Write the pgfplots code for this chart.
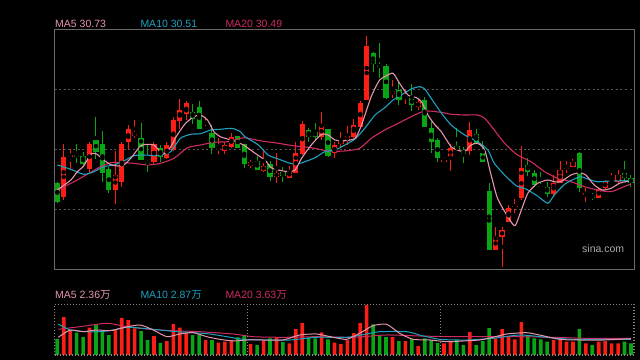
\documentclass[border=0pt]{standalone}
\usepackage{pgfplots}
\pgfplotsset{compat=1.18}
\usepackage{pgfplotstable}
\usepackage{fontspec}
\setmainfont{Liberation Sans}
\newfontfamily\cjk{Noto Sans CJK SC}

\definecolor{cred}{RGB}{250,30,20}
\definecolor{cgreen}{RGB}{10,165,20}
\definecolor{ma5}{RGB}{228,150,172}
\definecolor{ma10}{RGB}{30,160,192}
\definecolor{ma20}{RGB}{206,44,96}
\definecolor{framec}{RGB}{105,105,105}
\definecolor{gridc}{RGB}{85,85,85}
\definecolor{vframe}{RGB}{135,135,135}
\definecolor{sinac}{RGB}{170,170,170}

% o,c,h,l: price positions (chart units, top = small); vt: volume bar top
\pgfplotstableread{
i o c h l vt
0 182.7 201.7 182 203 339
1 196.7 157 144 200.3 317
2 156 155 149 170 330
3 155 156 144 162.7 332.7
4 156 164.3 151.7 165 337
5 169 144 142 171.7 327.7
6 140 152.3 117.3 159 325
7 144 172.7 131 181.7 331
8 169 190 166.7 192.7 335
9 190 175 150.7 203.7 330
10 181.7 144 141.7 186.7 318
11 141.7 129 125 149 320
12 135.7 132.7 120 137.7 328.3
13 138.3 160 122.7 160 331
14 161.7 163.7 144 171.7 340
15 162.3 144 142.3 163.7 336
16 147.7 157 145.3 161.7 343
17 158.3 145 142.3 159.3 341
18 150 120 116.7 150.7 324
19 121 110 99.3 129 327.7
20 114.3 103.3 100.7 120 333.3
21 112.3 119 104.3 124.3 335
22 106.7 129 100.7 129 334.3
23 128.7 127.7 116.7 128.7 340
24 132.7 148.3 125 154 340
25 149 148.3 138.3 154 342.7
26 150.7 145 141.7 154 341.7
27 146.7 136.7 133.3 148.3 340
28 135.7 148.3 135.7 148.3 337.3
29 144 163.7 144 167.7 335
30 166 161.7 160 167.7 344
31 161 170 155.7 170 345
32 170.7 166 150 171.7 340.7
33 164.3 176.7 161 180.7 338.3
34 176.7 173.3 153.3 183.3 337.3
35 171.7 175.7 167.3 181.7 342
36 177.7 171 166 177.7 343.3
37 173.3 153.3 142.3 173.3 329
38 154 124.3 121 155 323
39 130 136.7 127.7 142.3 337.3
40 131.7 136.7 123.3 140 338.3
41 136.7 125.7 111.7 140 332.3
42 129 155.7 129 156.7 339.3
43 153.3 145 141.7 158.3 342.7
44 144 140 131.7 148.3 344
45 141 135.7 125.7 145 340
46 136.7 125 119 138.3 333
47 126.7 103.3 101 126.7 323
48 100 46 36 100 305
49 52.7 64.3 51.7 72.3 324.3
50 65 67 42.7 77.7 336
51 66 97.7 64.3 99.3 337
52 94 91 80 97.7 337
53 90 100 81.7 105 341
54 96.7 95.7 90 104.3 341
55 98.3 105 84.3 110.7 339
56 106.7 102.3 99.3 110 346
57 100 126.7 96.7 126.7 338.3
58 127.7 141.7 121 152.7 340
59 140 158.3 138.3 161.7 343
60 161 160 156.7 162.7 343.3
61 156.7 148.3 144 170.7 341
62 146 149.3 128.3 150 340
63 150 154 146.7 162.7 345
64 150.7 130 121.7 155 332
65 134 143.3 129.3 143.3 345
66 153.3 161.7 140.7 162.3 341
67 191 250 183.3 250 328
68 250 236.7 226.7 250 338.3
69 236.7 230 226.7 266.7 329
70 222.3 208.3 205 222.3 336
71 206.7 206 199.3 213.3 339.3
72 198.3 168.3 146 200 322
73 165 171.7 158.3 175.7 336
74 172.7 185 170 186.7 338.3
75 185.7 186.7 171.7 186.7 339.3
76 186.7 194.3 181.7 196.7 341.7
77 194 182.7 175 196.7 340
78 183.3 170 161 183.3 339.3
79 168.3 167 161 172.7 341.7
80 166.7 161.7 159 166.7 341.7
81 152.7 187.7 151.7 191.7 329
82 194.3 193.3 188.3 201.7 343.3
83 195.7 197.3 192.7 200 345
84 197.7 189 188.3 197.7 341.7
85 187.7 181.7 180 189 341
86 181.7 180.7 173.3 181.7 343.3
87 181.7 175 170 183.3 343.3
88 173.3 178.3 161 182.3 341.7
89 177.7 183.3 175 186.7 343.3
}\kdata

\begin{document}
\begin{tikzpicture}
\fill[black] (0,0) rectangle (640bp,360bp);
\useasboundingbox (0,0) rectangle (640bp,360bp);

% ---------------- price panel ----------------
\begin{axis}[
  at={(54.5bp,90.5bp)}, anchor=south west,
  scale only axis, width=579.5bp, height=240bp,
  xmin=-0.434, xmax=89.47, ymin=29.5, ymax=269.5, y dir=reverse,
  axis line style={framec, line width=1bp},
  xtick=\empty, ytick={89.5,149.5,209.5}, yticklabels={}, major tick length=0pt,
  ymajorgrids, grid style={gridc, line width=1.3bp, dash pattern=on 2bp off 2.6bp},
  clip=true,
]
% wicks
\addplot[only marks, mark=none, forget plot,
  restrict expr to domain={\thisrow{o}-\thisrow{c}}{0.001:1000},
  error bars/.cd, y dir=both, y explicit, error mark=none,
  error bar style={line width=1bp, cred}]
  table[x=i, y expr={(\thisrow{h}+\thisrow{l})/2}, y error expr={(\thisrow{l}-\thisrow{h})/2}]{\kdata};
\addplot[only marks, mark=none, forget plot,
  restrict expr to domain={\thisrow{o}-\thisrow{c}}{-1000:0},
  error bars/.cd, y dir=both, y explicit, error mark=none,
  error bar style={line width=1bp, cgreen}]
  table[x=i, y expr={(\thisrow{h}+\thisrow{l})/2}, y error expr={(\thisrow{l}-\thisrow{h})/2}]{\kdata};
% bodies
\addplot[only marks, mark=none, forget plot,
  restrict expr to domain={\thisrow{o}-\thisrow{c}}{0.001:1000},
  error bars/.cd, y dir=both, y explicit, error mark=none,
  error bar style={line width=5.2bp, cred}]
  table[x=i, y expr={(\thisrow{o}+\thisrow{c})/2}, y error expr={max(abs(\thisrow{o}-\thisrow{c})/2,0.6)}]{\kdata};
\addplot[only marks, mark=none, forget plot,
  restrict expr to domain={\thisrow{o}-\thisrow{c}}{-1000:0},
  error bars/.cd, y dir=both, y explicit, error mark=none,
  error bar style={line width=5.2bp, cgreen}]
  table[x=i, y expr={(\thisrow{o}+\thisrow{c})/2}, y error expr={max(abs(\thisrow{o}-\thisrow{c})/2,0.6)}]{\kdata};
% moving averages
\addplot[ma20, line width=1.1bp, smooth, tension=0.4] coordinates {
(0,190)(2.6,181.7)(4.65,174.3)(6.7,166.7)(8.3,162.7)(9.8,162.7)(11.9,163.3)(14.0,165)(16.0,163.3)(18.1,158.3)(20.2,147.7)(22.2,145)(24.3,142.3)(26.4,141.7)(28.4,138.3)(29.1,137.7)(31.7,141)(34.3,143.3)(36.9,146)(39.4,147.7)(42.0,151)(44.6,151)(46.9,148.3)(48.7,138.3)(50.8,130)(52.9,123.3)(54.9,116.7)(57.0,111)(59.5,112.3)(61.1,114.3)(63.2,115)(65.2,115)(66.3,118.3)(67.8,130)(69.4,143.3)(71.4,155)(73.5,161.7)(75.6,171.7)(77.6,178.3)(79.7,181.7)(81.8,186.7)(83.8,190)(85.9,191.7)(87.9,186.7)(89,184)};
\addplot[ma10, line width=1.1bp, smooth, tension=0.4] coordinates {
(0,165)(2.1,169.3)(4.1,174.3)(5.7,171.7)(7.2,166.7)(8.8,165)(10.3,161)(11.9,155.7)(13.4,155)(15.0,155.7)(16.5,154.3)(17.6,151.7)(19.1,138.3)(20.7,134.3)(22.2,133.7)(23.8,130)(25.3,129.3)(27.1,128.3)(28.4,131.7)(29.1,136.7)(31.2,145)(32.7,155)(34.3,159)(35.8,162.7)(37.1,164.3)(38.4,161.7)(40.0,157.7)(41.5,151.7)(43.1,150)(44.6,145)(46.2,139)(47.7,128.3)(49.3,115)(50.8,107.7)(52.1,100)(53.4,95)(54.9,89)(56.2,86.7)(57.0,89)(58.0,98.3)(59.5,112.3)(61.1,125)(63.2,135)(65.2,141.7)(66.8,150)(67.8,163.3)(69.4,175)(71.2,185.7)(72.7,189)(74.5,196)(76.1,203.3)(77.1,195)(78.7,184.3)(80.2,179)(81.2,176.7)(82.3,179)(83.8,181.7)(85.9,181)(87.9,180.7)(89,180.5)};
\addplot[ma5, line width=1.1bp, smooth, tension=0.4] coordinates {
(0,190)(2.1,180)(3.1,171.7)(4.1,166)(5.2,154)(6.1,154)(7.2,160)(8.2,164.3)(9.3,166)(10.3,165)(11.4,158.3)(12.9,146)(14.0,144.3)(15.0,145)(16.0,151.7)(16.8,153.3)(17.6,146.7)(18.6,135)(19.9,123.3)(21.2,116.7)(22.2,115)(23.3,120)(24.3,131.7)(25.3,136.7)(26.4,139)(27.7,141.7)(28.9,145)(30.7,153.3)(32.2,160)(33.2,167.7)(34.3,170)(35.8,171.7)(36.9,170)(37.9,158.3)(39.4,145)(41.0,134.3)(42.0,135)(43.1,140)(44.6,140.7)(46.2,138.3)(47.2,125)(48.7,96.7)(50.0,80)(51.1,75.7)(52.1,73.3)(53.1,83.3)(54.4,95)(55.7,97.7)(56.5,101.7)(57.5,115)(58.6,125)(59.5,131)(61.1,146.7)(62.1,150)(63.2,151.7)(64.2,145)(65.2,143.3)(66.3,150)(67.3,175)(68.3,198.3)(69.9,216.7)(71.0,225.7)(71.9,211.7)(73.0,193.3)(74.5,183.3)(76.1,180)(77.1,181.7)(78.1,181.7)(79.7,175)(81.0,172.7)(82.0,175)(83.3,185)(84.6,190)(85.9,188.3)(87.2,183.3)(88.2,181.7)(89,181)};
\end{axis}

% ---------------- volume panel ----------------
\begin{axis}[
  at={(54.5bp,5bp)}, anchor=south west,
  scale only axis, width=579.5bp, height=50.7bp,
  xmin=-0.434, xmax=89.47, ymin=0, ymax=50.7,
  axis lines=none, ticks=none, clip=true,
]
\addplot[ybar, bar width=3.6bp, bar shift=0pt, fill=cred, draw=none,
  restrict expr to domain={\thisrow{o}-\thisrow{c}}{0.001:1000}]
  table[x=i, y expr={355-\thisrow{vt}}]{\kdata};
\addplot[ybar, bar width=3.6bp, bar shift=0pt, fill=cgreen, draw=none,
  restrict expr to domain={\thisrow{o}-\thisrow{c}}{-1000:0}]
  table[x=i, y expr={355-\thisrow{vt}}]{\kdata};
\addplot[ma20, line width=1bp, smooth, tension=0.4] coordinates {
(0.16,25.7)(3.5,28.3)(7.7,31.7)(10.8,28.3)(14.4,25.7)(18,24.3)(22.1,23.3)(27.3,21)(30.4,18.3)(35,17.7)(40.2,18.3)(45.9,17.7)(51.1,20)(56.2,19)(61.4,18.3)(66.6,18.3)(71.7,18.3)(76.9,17.7)(82.1,16.7)(89,16.7)};
\addplot[ma10, line width=1bp, smooth, tension=0.4] coordinates {
(0.16,31)(2,25)(4.55,23.3)(6.6,23.3)(8.7,25)(10.8,27.7)(13.3,26.7)(15.9,25)(18.5,23.3)(21.1,22.3)(23.7,21)(26.3,18.3)(28.8,15.7)(32.5,15)(36.1,15)(40.2,17.7)(44.9,17.7)(48,21)(50,23.3)(54.2,23.3)(56.2,20)(59.3,15.7)(63.5,15)(67.6,16.7)(71.7,20)(75.9,17.7)(80,15.7)(89,15.7)};
\addplot[ma5, line width=1bp, smooth, tension=0.4] coordinates {
(0.16,17.7)(2,25)(4,23.3)(6.1,25)(8.2,24.3)(10.2,27.3)(12.8,30)(14.9,25)(17,18.3)(19,21)(21.1,22.3)(23.2,18.3)(25.2,15.7)(27.3,14)(29.4,15)(31.9,15)(35,15)(37.6,20)(40.2,21)(42.8,17.7)(44.9,15.7)(46.9,21.7)(49,29.3)(51.1,30.7)(53.1,21.7)(55.2,15.7)(57.8,15)(60.4,13.3)(62.9,14)(65.5,15)(67.6,17.7)(69.7,21)(72.8,22.3)(74.8,20)(77.9,15.7)(81,15)(84.7,15)(89,16.3)};
\draw[vframe, line width=1.2bp, dash pattern=on 1.2bp off 1.8bp] (axis cs:29.5,0) -- (axis cs:29.5,50.7);
\draw[vframe, line width=1.2bp, dash pattern=on 1.2bp off 1.8bp] (axis cs:59.5,0) -- (axis cs:59.5,50.7);
\end{axis}
\draw[vframe, line width=1.2bp, dash pattern=on 1.2bp off 1.8bp] (54.5bp,5bp) rectangle (634bp,55.7bp);

% ---------------- labels ----------------
\begin{scope}[every node/.style={anchor=base west, inner sep=0pt, font=\fontsize{10.5bp}{12bp}\selectfont}]
\node[text=ma5]  at (55bp,332.5bp) {MA5 30.73};
\node[text=ma10] at (140.3bp,332.5bp) {MA10 30.51};
\node[text=ma20] at (225.3bp,332.5bp) {MA20 30.49};
\node[text=ma5]  at (55bp,61bp) {MA5 2.36{\cjk 万}};
\node[text=ma10] at (140.3bp,61bp) {MA10 2.87{\cjk 万}};
\node[text=ma20] at (225.3bp,61bp) {MA20 3.63{\cjk 万}};
\node[text=sinac] at (582bp,107bp) {sina.com};
\end{scope}
\end{tikzpicture}
\end{document}
